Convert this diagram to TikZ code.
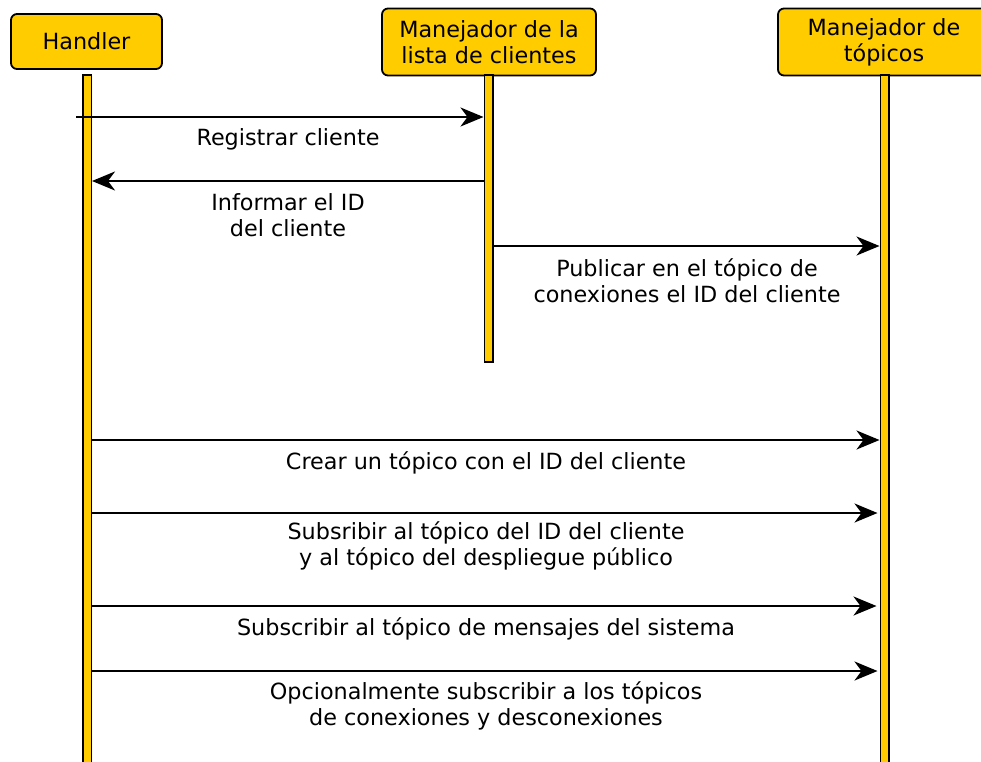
\documentclass[tikz,border=0pt]{standalone}
\usepackage{fontspec}
\setmainfont{DejaVu Sans}
\usetikzlibrary{arrows.meta}
\definecolor{gold}{HTML}{FFCC00}
\begin{document}
\begin{tikzpicture}[x=1pt,y=-1pt,
  font=\fontsize{22.3}{26}\selectfont,
  actor/.style={draw=black, line width=1.8pt, fill=gold, rounded corners=6pt, align=center, inner sep=0pt},
  bar/.style={draw=black, line width=1.5pt, fill=gold, minimum width=8.5pt, inner sep=0pt},
  msg/.style={draw=black, line width=2pt, -{Stealth[length=23pt,width=19pt,inset=7pt]}},
  lbl/.style={align=center, inner sep=0pt}]
\useasboundingbox (0,0) rectangle (981,761);
% actors
\node[actor, minimum width=151pt, minimum height=55pt] (h) at (86.5,41.5) {Handler};
\node[actor, minimum width=214pt, minimum height=67pt] (l) at (489,42) {Manejador de la\\ lista de clientes};
\node[actor, minimum width=212pt, minimum height=67pt] (t) at (884,42) {Manejador de\\tópicos};
% lifelines
\node[bar, minimum height=700pt] (hbar) at (87,425) {};
\node[bar, minimum height=287pt] (lbar) at (488.5,218.5) {};
\node[bar, minimum height=700pt] (tbar) at (884.5,425) {};
% messages
\coordinate (s1) at (76,117);
\draw[msg] (s1) -- (lbar.west |- s1);
\node[lbl] (m1) at (288,139) {Registrar cliente};
\draw[msg] (lbar.west |- 0,181) -- (hbar.east |- 0,181);
\node[lbl] (m2) at (288,215) {Informar el ID\\del cliente};
\draw[msg] (lbar.east |- 0,246) -- (tbar.west |- 0,246);
\node[lbl] (m3) at (687,281) {Publicar en el tópico de\\conexiones el ID del cliente};
\draw[msg] (hbar.east |- 0,440) -- (tbar.west |- 0,440);
\node[lbl] (m4) at (486,463) {Crear un tópico con el ID del cliente};
\draw[msg] (hbar.east |- 0,513) -- ([xshift=-2pt]tbar.west |- 0,513);
\node[lbl] (m5) at (486,546) {Subsribir al tópico del ID del cliente\\y al tópico del despliegue público};
\draw[msg] (hbar.east |- 0,606) -- ([xshift=-3pt]tbar.west |- 0,606);
\node[lbl] (m6) at (486,629) {Subscribir al tópico de mensajes del sistema};
\draw[msg] (hbar.east |- 0,671) -- ([xshift=-2pt]tbar.west |- 0,671);
\node[lbl] (m7) at (486,706) {Opcionalmente subscribir a los tópicos\\de conexiones y desconexiones};
\end{tikzpicture}
\end{document}
